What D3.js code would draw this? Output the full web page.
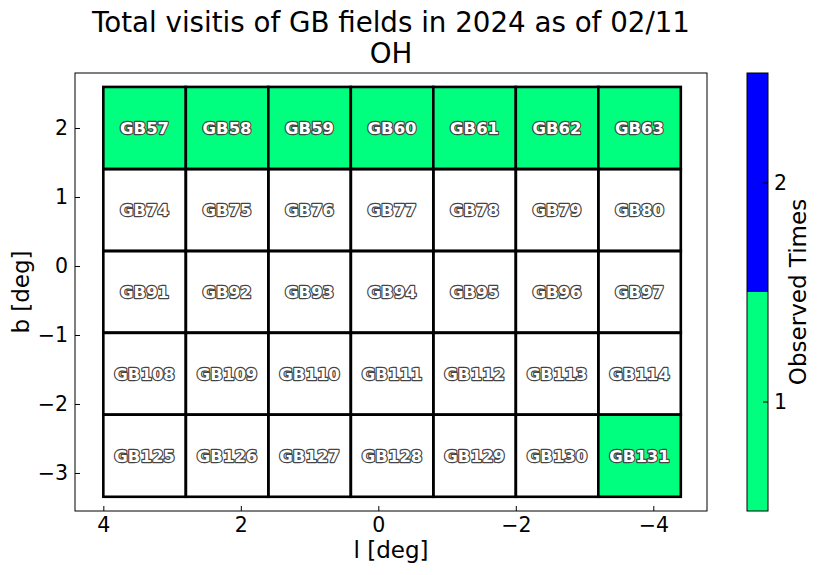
<!DOCTYPE html>
<html>
<head>
<meta charset="utf-8">
<script src="https://cdn.jsdelivr.net/npm/d3@7.9.0/dist/d3.min.js"></script>
<style>
  body { margin: 0; background: #fff; }
  svg { font-family: "DejaVu Sans", sans-serif; display: block; }
</style>
</head>
<body>
<svg id="chart" width="822" height="575"></svg>
<script>
// field names, row by row (top row = highest b)
const fieldRows = [
  ['GB57', 'GB58', 'GB59', 'GB60', 'GB61', 'GB62', 'GB63'],
  ['GB74', 'GB75', 'GB76', 'GB77', 'GB78', 'GB79', 'GB80'],
  ['GB91', 'GB92', 'GB93', 'GB94', 'GB95', 'GB96', 'GB97'],
  ['GB108', 'GB109', 'GB110', 'GB111', 'GB112', 'GB113', 'GB114'],
  ['GB125', 'GB126', 'GB127', 'GB128', 'GB129', 'GB130', 'GB131']
];
// observed times per field (0 = not observed)
const visits = [
  [1, 1, 1, 1, 1, 1, 1],
  [0, 0, 0, 0, 0, 0, 0],
  [0, 0, 0, 0, 0, 0, 0],
  [0, 0, 0, 0, 0, 0, 0],
  [0, 0, 0, 0, 0, 0, 1]
];
// field centres in galactic coords
const lCenters = [3.4, 2.2, 1.0, -0.2, -1.4, -2.6, -3.8];
const bCenters = [2.0, 0.81, -0.375, -1.56, -2.75];
const cellW = 1.2, cellH = 1.19;

const xTicks = [4, 2, 0, -2, -4];
const yTicks = [2, 1, 0, -1, -2, -3];
const cbTicks = [1, 2];
const cbColors = ['#00ff7f', '#0000ff'];

const svg = d3.select('#chart');
const pL = 75, pR = 707, pT = 73, pB = 511;

const x = d3.scaleLinear().domain([4.412, -4.781]).range([pL, pR]);
const y = d3.scaleLinear().domain([2.797, -3.551]).range([pT, pB]);
const color = d3.scaleThreshold().domain([1.5]).range(cbColors);

// cells
let cells = [];
fieldRows.forEach((row, i) => {
  row.forEach((name, j) => {
    cells.push({ name: name, l: lCenters[j], b: bCenters[i], v: visits[i][j] });
  });
});

const g = svg.append('g');
g.selectAll('rect.cell')
  .data(cells)
  .join('rect')
  .attr('class', 'cell')
  .attr('x', d => x(d.l + cellW / 2))
  .attr('y', d => y(d.b + cellH / 2))
  .attr('width', d => x(d.l - cellW / 2) - x(d.l + cellW / 2))
  .attr('height', d => y(d.b - cellH / 2) - y(d.b + cellH / 2))
  .attr('fill', d => d.v > 0 ? color(d.v) : 'none')
  .attr('stroke', '#000')
  .attr('stroke-width', 2.6);

g.selectAll('text.lab')
  .data(cells)
  .join('text')
  .attr('class', 'lab')
  .attr('x', d => x(d.l))
  .attr('y', d => y(d.b))
  .attr('dy', '0.36em')
  .attr('text-anchor', 'middle')
  .attr('font-size', 16.5)
  .attr('font-weight', 'bold')
  .attr('fill', '#fff')
  .attr('stroke', '#444')
  .attr('stroke-width', 2.4)
  .attr('stroke-linejoin', 'round')
  .attr('paint-order', 'stroke')
  .text(d => d.name);

// frame
svg.append('rect')
  .attr('x', pL).attr('y', pT)
  .attr('width', pR - pL).attr('height', pB - pT)
  .attr('fill', 'none').attr('stroke', '#000').attr('stroke-width', 1);

// axes with inward ticks
const fmt = d => d < 0 ? '\u2212' + Math.abs(d) : String(d);
const xAxis = svg.append('g')
  .attr('transform', `translate(0,${pB})`)
  .call(d3.axisBottom(x).tickValues(xTicks).tickFormat(fmt).tickSizeInner(-5).tickSizeOuter(0).tickPadding(6));
const yAxis = svg.append('g')
  .attr('transform', `translate(${pL},0)`)
  .call(d3.axisLeft(y).tickValues(yTicks).tickFormat(fmt).tickSizeInner(-5).tickSizeOuter(0).tickPadding(7));
[xAxis, yAxis].forEach(a => {
  a.select('.domain').remove();
  a.selectAll('text').attr('font-size', 20.5).attr('fill', '#000')
    .attr('font-family', '"DejaVu Sans", sans-serif');
});

// axis labels
svg.append('text')
  .attr('x', (pL + pR) / 2).attr('y', 557.5)
  .attr('text-anchor', 'middle').attr('font-size', 23)
  .text('l [deg]');
svg.append('text')
  .attr('transform', `translate(29,${(pT + pB) / 2}) rotate(-90)`)
  .attr('text-anchor', 'middle').attr('font-size', 23)
  .text('b [deg]');

// title
svg.append('text')
  .attr('x', (pL + pR) / 2).attr('y', 32)
  .attr('text-anchor', 'middle').attr('font-size', 27.7)
  .text('Total visitis of GB fields in 2024 as of 02/11');
svg.append('text')
  .attr('x', (pL + pR) / 2).attr('y', 63)
  .attr('text-anchor', 'middle').attr('font-size', 27.7)
  .text('OH');

// colorbar
const cbL = 747, cbR = 768;
const cbY = d3.scaleLinear().domain([0.5, 2.5]).range([pB, pT]);
const cb = svg.append('g');
cb.selectAll('rect')
  .data(cbColors)
  .join('rect')
  .attr('x', cbL)
  .attr('y', (c, i) => cbY(i + 1.5))
  .attr('width', cbR - cbL)
  .attr('height', (c, i) => cbY(i + 0.5) - cbY(i + 1.5))
  .attr('fill', c => c);
cb.append('rect')
  .attr('x', cbL).attr('y', pT)
  .attr('width', cbR - cbL).attr('height', pB - pT)
  .attr('fill', 'none').attr('stroke', '#000').attr('stroke-width', 1);
const cbAxis = cb.append('g')
  .attr('transform', `translate(${cbR},0)`)
  .call(d3.axisRight(cbY).tickValues(cbTicks).tickFormat(d3.format('d')).tickSizeInner(-5).tickSizeOuter(0).tickPadding(6));
cbAxis.select('.domain').remove();
cbAxis.selectAll('text').attr('font-size', 20.5).attr('fill', '#000')
  .attr('font-family', '"DejaVu Sans", sans-serif');
svg.append('text')
  .attr('transform', `translate(806,${(pT + pB) / 2}) rotate(-90)`)
  .attr('text-anchor', 'middle').attr('font-size', 23)
  .text('Observed Times');
</script>
</body>
</html>
